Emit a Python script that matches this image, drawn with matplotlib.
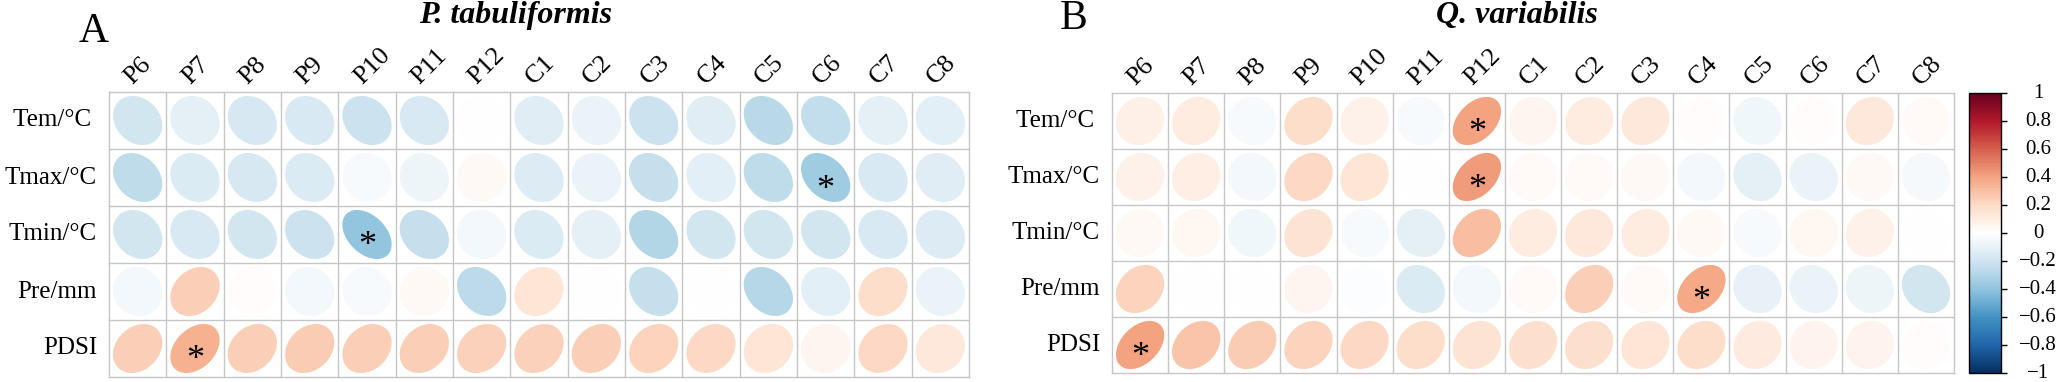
import numpy as np
import matplotlib
matplotlib.use("Agg")
import matplotlib.pyplot as plt
from matplotlib.colors import LinearSegmentedColormap, Normalize
from matplotlib.patches import Polygon
import matplotlib.colorbar as mcolorbar

plt.rcParams['font.family'] = ['Liberation Serif', 'DejaVu Serif']

# data
months = ['P6', 'P7', 'P8', 'P9', 'P10', 'P11', 'P12',
          'C1', 'C2', 'C3', 'C4', 'C5', 'C6', 'C7', 'C8']
climate = ['Tem/°C ', 'Tmax/°C', 'Tmin/°C', 'Pre/mm', 'PDSI']

r_tab_tem  = [-0.20, -0.12, -0.18, -0.17, -0.22, -0.17, 0.00, -0.14, -0.10, -0.22, -0.14, -0.28, -0.25, -0.12, -0.13]
r_tab_tmax = [-0.26, -0.16, -0.18, -0.16, -0.04, -0.08, 0.03, -0.15, -0.10, -0.24, -0.13, -0.26, -0.36, -0.17, -0.14]
r_tab_tmin = [-0.20, -0.17, -0.20, -0.22, -0.40, -0.24, -0.06, -0.16, -0.12, -0.30, -0.20, -0.20, -0.20, -0.17, -0.15]
r_tab_pre  = [-0.06, 0.24, 0.01, -0.06, -0.04, 0.03, -0.27, 0.15, -0.01, -0.24, 0.00, -0.29, -0.13, 0.18, -0.10]
r_tab_pdsi = [0.24, 0.35, 0.24, 0.25, 0.24, 0.24, 0.23, 0.23, 0.24, 0.22, 0.20, 0.15, 0.05, 0.20, 0.12]
sig_tab = [(2, 4), (1, 12), (4, 1)]

r_var_tem  = [0.08, 0.10, -0.04, 0.18, 0.07, -0.04, 0.40, 0.05, 0.10, 0.12, 0.01, -0.07, 0.01, 0.13, 0.02]
r_var_tmax = [0.07, 0.09, -0.06, 0.20, 0.14, 0.00, 0.42, 0.02, 0.02, 0.03, -0.06, -0.12, -0.10, 0.03, -0.05]
r_var_tmin = [0.03, 0.04, -0.07, 0.16, -0.04, -0.12, 0.30, 0.10, 0.12, 0.10, 0.03, -0.04, 0.04, 0.07, 0.00]
r_var_pre  = [0.22, -0.01, 0.00, 0.05, -0.02, -0.16, -0.06, 0.02, 0.24, 0.02, 0.38, -0.11, -0.10, -0.08, -0.20]
r_var_pdsi = [0.40, 0.28, 0.25, 0.22, 0.20, 0.18, 0.16, 0.17, 0.17, 0.14, 0.18, 0.11, 0.06, 0.06, 0.01]
sig_var = [(0, 6), (1, 6), (3, 10), (4, 0)]

# corrplot RdBu palette
cmap = LinearSegmentedColormap.from_list('corrRdBu', [
    '#053061', '#2166AC', '#4393C3', '#92C5DE', '#D1E5F0', '#FFFFFF',
    '#FDDBC7', '#F4A582', '#D6604D', '#B2182B', '#67001F'], N=200)
norm = Normalize(-1, 1)

W, H = 2059, 382
fig = plt.figure(figsize=(W / 100, H / 100), dpi=100)


def px_axes(left, top, right, bottom):
    return fig.add_axes([left / W, (H - bottom) / H, (right - left) / W, (bottom - top) / H])


def ellipse(cx, cy, r):
    t = np.linspace(0, 2 * np.pi, 120)
    d = np.arccos(r)
    x = 0.86 * np.cos(t + d / 2) / 2
    y = 0.86 * np.cos(t - d / 2) / 2
    return np.column_stack([cx + x, cy - y])


def corr_panel(ax, mat, sig):
    mat = np.array(mat)
    nr, nc = mat.shape
    for i in range(nr):
        for j in range(nc):
            ax.add_patch(Polygon(ellipse(j + 0.5, i + 0.5, mat[i, j]), closed=True,
                                 facecolor=cmap(norm(mat[i, j])), edgecolor='none'))
    for k in range(nc + 1):
        ax.plot([k, k], [0, nr], color='#c6c6c6', lw=1.0, clip_on=False)
    for k in range(nr + 1):
        ax.plot([0, nc], [k, k], color='#c6c6c6', lw=1.0, clip_on=False)
    for i, j in sig:
        ax.annotate('*', xy=(j + 0.5, i + 0.5), xytext=(0, -21), textcoords='offset pixels',
                    ha='center', va='baseline', fontsize=26)
    for j, lab in enumerate(months):
        ax.annotate(lab, xy=(j + 0.5, 0), xytext=(-5, 7), textcoords='offset pixels',
                    rotation=45, rotation_mode='anchor', ha='left', va='baseline',
                    fontsize=19, annotation_clip=False)
    for i, lab in enumerate(climate):
        ax.annotate(lab, xy=(0, i + 0.5), xytext=(-12, 0), textcoords='offset pixels',
                    ha='right', va='center', fontsize=18, annotation_clip=False)
    ax.set_xlim(0, nc)
    ax.set_ylim(nr, 0)
    ax.axis('off')


axA = px_axes(109, 92, 969, 377)
corr_panel(axA, [r_tab_tem, r_tab_tmax, r_tab_tmin, r_tab_pre, r_tab_pdsi], sig_tab)

axB = px_axes(1112, 93, 1954, 373)
corr_panel(axB, [r_var_tem, r_var_tmax, r_var_tmin, r_var_pre, r_var_pdsi], sig_var)

# panel letters and titles
fig.text(94 / W, 1 - 42 / H, 'A', ha='center', va='baseline', fontsize=30)
fig.text(1074 / W, 1 - 29 / H, 'B', ha='center', va='baseline', fontsize=30)
fig.text(516 / W, 1 - 23 / H, 'P. tabuliformis', ha='center', va='baseline',
         fontsize=23, fontweight='bold', style='italic')
fig.text(1517 / W, 1 - 23 / H, 'Q. variabilis', ha='center', va='baseline',
         fontsize=23, fontweight='bold', style='italic')

# colorbar
cax = px_axes(1969, 93, 2001, 373)
cb = mcolorbar.ColorbarBase(cax, cmap=cmap, norm=norm, orientation='vertical')
ticks = np.round(np.linspace(-1, 1, 11), 1)
cb.set_ticks(ticks)
cax.set_yticklabels([])
cax.tick_params(axis='y', direction='out', length=4, width=1, color='black', right=True)
cb.outline.set_linewidth(1.0)
cb.outline.set_edgecolor('black')
for v in ticks:
    s = '%g' % v
    s = s.replace('-', '\u2212')
    cax.annotate(s, xy=(1, v), xycoords=cax.get_yaxis_transform(), xytext=(37, 0),
                 textcoords='offset pixels', ha='center', va='center', fontsize=15,
                 annotation_clip=False)

fig.savefig('out.png', dpi=100)
